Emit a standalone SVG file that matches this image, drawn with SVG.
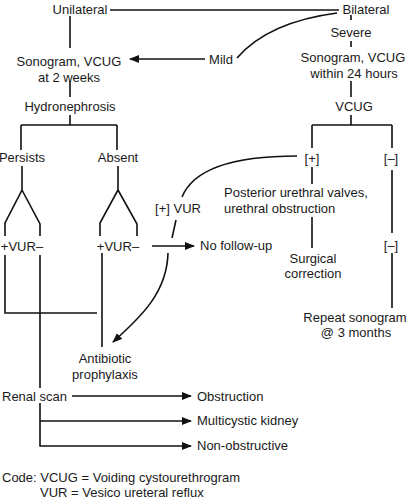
<svg xmlns="http://www.w3.org/2000/svg" width="409" height="500" viewBox="0 0 409 500">
<style>
text{font-family:"Liberation Sans",Arial,sans-serif;font-size:13px;fill:#1a1a1a}
.m{text-anchor:middle}
.c{fill:none;stroke:#111;stroke-width:1.6}
</style>
<defs>
<marker id="ah" viewBox="0 0 10 8" refX="9" refY="4" markerWidth="10" markerHeight="8" markerUnits="userSpaceOnUse" orient="auto">
<path d="M0,0 L10,4 L0,8 z" fill="#111"/>
</marker>
</defs>
<rect width="409" height="500" fill="#fff"/>
<g id="connectors">
<path class="c" d="M110,10 H339"/>
<path class="c" d="M70,16 V48"/>
<path class="c" d="M205,59 H130" marker-end="url(#ah)"/>
<path class="c" d="M237,58 Q268,22 337,13"/>
<path class="c" d="M351,15 V20 M351,41 V47"/>
<path class="c" d="M70,81 V97"/>
<path class="c" d="M70,115 V125 M21,125 H117 M21,125 V150 M117,125 V150"/>
<path class="c" d="M351,81 V97"/>
<path class="c" d="M351,115 V125 M312,125 H392 M312,125 V148 M392,125 V148"/>
<path class="c" d="M22,166 V190 L5,223 V236 M22,190 L40,224 V236"/>
<path class="c" d="M118,166 V190 L100,223 V236 M118,190 L137,224 V236"/>
<path class="c" d="M5,255 V313 H97"/>
<path class="c" d="M40,255 V388"/>
<path class="c" d="M102,253 V347"/>
<path class="c" d="M297,156 C232,156 193,170 182,197"/>
<path class="c" d="M176,220 L172,238"/>
<path class="c" d="M152,246 H194" marker-end="url(#ah)"/>
<path class="c" d="M168,253 C167,292 142,316 113,342" marker-end="url(#ah)"/>
<path class="c" d="M312,167 V184 M312,217 V248"/>
<path class="c" d="M392,170 V233 M392,253 V308"/>
<path class="c" d="M72,396 H191" marker-end="url(#ah)"/>
<path class="c" d="M40,403 V446 H191" marker-end="url(#ah)"/>
<path class="c" d="M40,421 H191" marker-end="url(#ah)"/>
</g>
<g id="unilateral"><text x="80" y="14" class="m">Unilateral</text></g>
<g id="bilateral"><text x="366" y="14" class="m">Bilateral</text></g>
<g id="severe"><text x="351" y="37" class="m">Severe</text></g>
<g id="mild"><text x="221" y="64" class="m">Mild</text></g>
<g id="sono2w"><text x="69" y="66" class="m">Sonogram, VCUG</text><text x="69" y="82" class="m">at 2 weeks</text></g>
<g id="sono24"><text x="353" y="62" class="m">Sonogram, VCUG</text><text x="354" y="78" class="m">within 24 hours</text></g>
<g id="hydro"><text x="70" y="111" class="m">Hydronephrosis</text></g>
<g id="vcug"><text x="354" y="111" class="m">VCUG</text></g>
<g id="persists"><text x="22" y="162" class="m">Persists</text></g>
<g id="absent"><text x="118" y="162" class="m">Absent</text></g>
<g id="plus"><text x="312" y="163" class="m">[+]</text></g>
<g id="minus1"><text x="391" y="163" class="m">[–]</text></g>
<g id="puv"><text x="224" y="197">Posterior urethral valves,</text><text x="224" y="213">urethral obstruction</text></g>
<g id="plusvur"><text x="178" y="213" class="m">[+] VUR</text></g>
<g id="vur1"><text x="22" y="251" class="m">+VUR–</text></g>
<g id="vur2"><text x="118" y="251" class="m">+VUR–</text></g>
<g id="nofollow"><text x="200" y="250">No follow-up</text></g>
<g id="minus2"><text x="391" y="250" class="m">[–]</text></g>
<g id="surgical"><text x="313" y="263" class="m">Surgical</text><text x="313" y="278" class="m">correction</text></g>
<g id="repeat"><text x="355" y="322" class="m">Repeat sonogram</text><text x="356" y="337" class="m">@ 3 months</text></g>
<g id="antibiotic"><text x="105" y="363" class="m">Antibiotic</text><text x="105" y="379" class="m">prophylaxis</text></g>
<g id="renal"><text x="2" y="401">Renal scan</text></g>
<g id="obstruction"><text x="197" y="401">Obstruction</text></g>
<g id="multicystic"><text x="197" y="425">Multicystic kidney</text></g>
<g id="nonobs"><text x="197" y="450">Non-obstructive</text></g>
<g id="code"><text x="2" y="482">Code: VCUG = Voiding cystourethrogram</text><text x="40" y="497">VUR = Vesico ureteral reflux</text></g>
</svg>
